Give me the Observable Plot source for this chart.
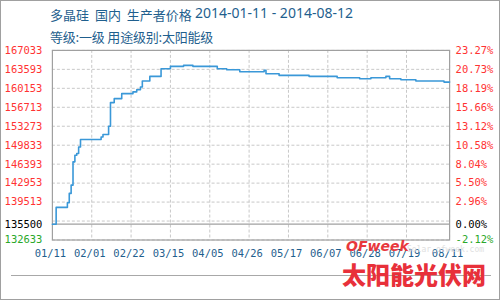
<!DOCTYPE html>
<html><head><meta charset="utf-8">
<script src="https://cdn.jsdelivr.net/npm/d3@7"></script>
<script src="https://cdn.jsdelivr.net/npm/@observablehq/plot@0.6"></script>
<style>
html,body{margin:0;padding:0;background:#fff;}
#wrap{position:relative;width:500px;height:300px;box-sizing:border-box;border:1px solid #a0a0a0;overflow:hidden;background:#fff;}
#chart{position:absolute;left:-1px;top:-1px;}
.t{position:absolute;font-family:"Noto Sans CJK SC","Noto Sans",sans-serif;font-size:13px;color:#1f5f8e;white-space:nowrap;line-height:1;}
.lat{font-family:"Noto Sans","Noto Sans CJK SC",sans-serif;font-size:14px;}
#hr{position:absolute;left:10px;top:274px;width:480px;height:1px;background:#a8a8a8;}
.wm{position:absolute;white-space:nowrap;line-height:1;}
</style></head>
<body>
<div id="wrap">
<div id="chart"></div>
<div class="t" style="left:49px;top:7px;word-spacing:3px;">多晶硅 国内 生产者价格</div>
<div class="t lat" style="left:194px;top:5px">2014-01-11 - 2014-08-12</div>
<div class="t" style="left:49px;top:29px;letter-spacing:-0.2px;">等级:一级 用途级别:太阳能级</div>
<div id="hr"></div>
<div class="wm" style="left:406px;top:245px;font-family:'DejaVu Sans Mono',monospace;font-size:8px;color:#e0e0e0;">Solar.ofweek.com</div>
<div class="wm" style="left:345px;top:238px;font-family:'DejaVu Sans',sans-serif;font-weight:bold;font-style:italic;font-size:14px;color:#e8383d;">OFweek</div>
<div class="wm" style="left:341px;top:261px;font-family:'Noto Sans CJK SC',sans-serif;font-weight:900;font-size:24px;color:#e8303a;">太阳能光伏网</div>
</div>
<script>
const dates = ["2014-01-11","2014-01-13","2014-01-19","2014-01-20","2014-01-21","2014-01-22","2014-01-23","2014-01-24","2014-01-25","2014-01-26","2014-02-06","2014-02-07","2014-02-10","2014-02-11","2014-02-13","2014-02-17","2014-02-23","2014-02-25","2014-02-27","2014-02-28","2014-03-04","2014-03-10","2014-03-15","2014-03-22","2014-03-27","2014-04-09","2014-04-14","2014-04-21","2014-05-04","2014-05-05","2014-05-12","2014-05-28","2014-06-12","2014-06-24","2014-06-30","2014-07-08","2014-07-10","2014-07-16","2014-07-24","2014-08-08","2014-08-11"];
const prices = [135500,138550,139390,141090,142590,146810,148020,148330,149520,150860,151330,151770,153270,157560,158280,159190,159500,159900,160380,161470,162320,163710,164130,164310,164130,163710,163530,163160,163400,162800,162500,162320,162080,161900,162080,162320,161900,161710,161470,161280,161280];

const basePrice = 135500;
const gridValues = [132633,136073,139513,142953,146393,149833,153273,156713,160153,163593,167033];
const leftTickValues = [132633,135500,139513,142953,146393,149833,153273,156713,160153,163593,167033];
const leftTickLabels = ["132633","135500","139513","142953","146393","149833","153273","156713","160153","163593","167033"];
const rightTickLabels = ["-2.12%","0.00%","2.96%","5.50%","8.04%","10.58%","13.12%","15.66%","18.19%","20.73%","23.27%"];
const xTickDates = ["2014-01-11","2014-02-01","2014-02-22","2014-03-15","2014-04-05","2014-04-26","2014-05-17","2014-06-07","2014-06-28","2014-07-19","2014-08-11"];
const xTickLabels = ["01/11","02/01","02/22","03/15","04/05","04/26","05/17","06/07","06/28","07/19","08/11"];

const parse = d3.utcParse("%Y-%m-%d");
const series = dates.map((d,i)=>({date:parse(d), price:prices[i]}));
const xTicks = xTickDates.map((d,i)=>({date:parse(d), label:xTickLabels[i]}));
const yTicks = leftTickValues.map((v,i)=>({v, left:leftTickLabels[i], right:rightTickLabels[i]}));
const tickColor = v => v > basePrice ? "#ff3333" : (v === basePrice ? "#000000" : "#2aa82a");
const mono = "'DejaVu Sans Mono', 'Liberation Mono', monospace";

const chart = Plot.plot({
  width: 500, height: 300,
  marginLeft: 52, marginRight: 50, marginTop: 50, marginBottom: 60,
  x: {type:"utc", domain:[parse("2014-01-11"), parse("2014-08-11")], axis:null},
  y: {domain:[132633,167033], axis:null},
  style: {fontFamily: mono, fontSize: "10px", background:"transparent"},
  marks: [
    Plot.ruleY(gridValues, {stroke:"#c8c8c8", strokeDasharray:"3,2"}),
    Plot.ruleX(xTicks.slice(1), {x:"date", stroke:"#c8c8c8", strokeDasharray:"3,2"}),
    Plot.ruleY([basePrice], {stroke:"#a0a0a0", strokeWidth:1.2}),
    Plot.frame({stroke:"#a0a0a0", strokeWidth:1.2}),
    Plot.line(series, {x:"date", y:"price", curve:"step-after", stroke:"#3a98d8", strokeWidth:1.6}),
    Plot.text(yTicks, {y:"v", text:"left", frameAnchor:"left", textAnchor:"end", dx:-10, fill:d=>tickColor(d.v), fontSize:10.5}),
    Plot.text(yTicks, {y:"v", text:"right", frameAnchor:"right", textAnchor:"start", dx:6, fill:d=>tickColor(d.v), fontSize:10.5}),
    Plot.text(xTicks, {x:"date", text:"label", frameAnchor:"bottom", dy:17, dx:-2, fill:"#1f5f8e", fontSize:10.5})
  ]
});
document.getElementById("chart").appendChild(chart);
</script>
</body></html>
